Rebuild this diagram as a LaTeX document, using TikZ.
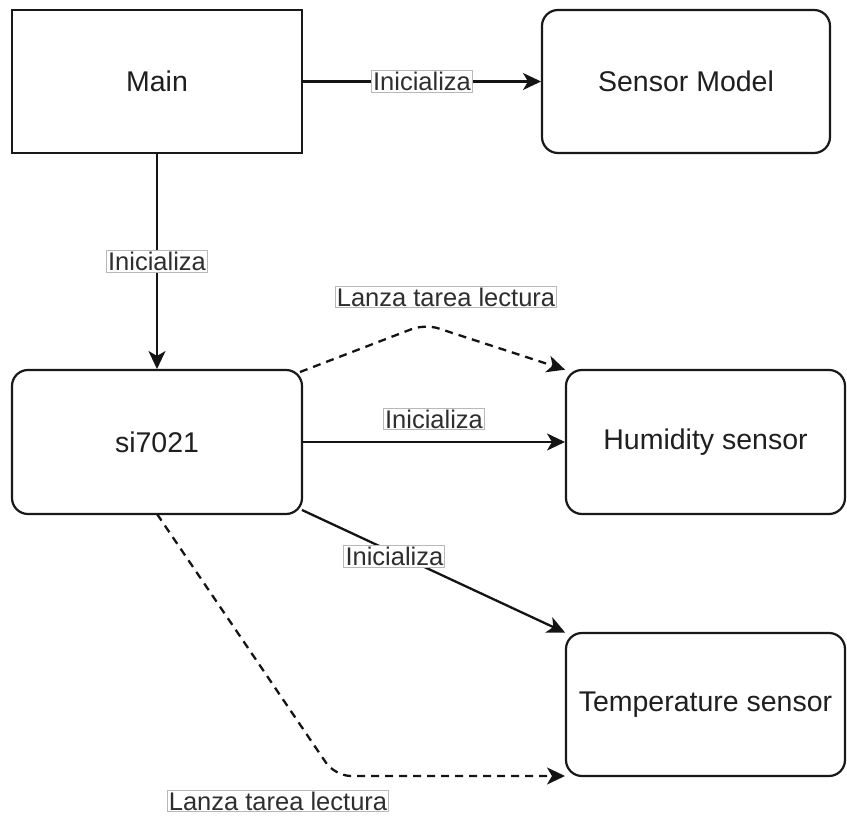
\documentclass[tikz,border=0pt]{standalone}
\usepackage{fontspec}
\setmainfont{Liberation Sans}
\usetikzlibrary{arrows.meta,calc}

\tikzset{
  boxbase/.style={draw=black!90, line width=2.2pt, fill=white, text=black!88,
    inner sep=0pt, outer sep=0pt, align=center,
    font=\fontsize{28.5}{34}\selectfont},
  plainbox/.style={boxbase, rectangle},
  roundbox/.style={boxbase, rectangle, rounded corners=16pt},
  lbl/.style={draw=black!28, line width=1pt, fill=white, text=black!82,
    inner sep=1.6pt, font=\fontsize{25.5}{28}\selectfont},
  link/.style={draw=black!92, line width=2.3pt, shorten >=1pt,
    -{Stealth[length=18pt,width=17pt,inset=5pt]}},
  dashlink/.style={link, dash pattern=on 8pt off 6pt}
}

\begin{document}
\begin{tikzpicture}[x=1pt,y=-1pt]
  \useasboundingbox (0,0) rectangle (847,818);

  % blocks
  \node[plainbox, minimum width=290pt, minimum height=143pt] (main) at (157,81.5) {Main};
  \node[roundbox, minimum width=288pt, minimum height=143pt] (model) at (686,81.5) {Sensor Model};
  \node[roundbox, minimum width=290pt, minimum height=144pt] (si) at (157,442) {si7021};
  \node[roundbox, minimum width=279pt, minimum height=144pt] (hum) at (705.5,442) {Humidity sensor};
  \node[roundbox, minimum width=279pt, minimum height=143pt] (temp) at (705.5,704.5) {Temperature sensor};

  % bend points of the dashed links
  \coordinate (peak) at (425,324);
  \coordinate (low) at (335,776);

  % initialisation links
  \draw[link] (main.east) -- node[lbl, pos=0.5] {Inicializa} (model.west);
  \draw[link] (main.south) -- node[lbl, pos=0.5] {Inicializa} (si.north);
  \draw[link] (si.east) -- node[lbl, midway, yshift=23pt] {Inicializa} (hum.west);
  \draw[link] ($(si.south east)+(0,-4)$) -- node[lbl, pos=0.35, yshift=-3pt] {Inicializa} (temp.north west);

  % reading tasks
  \draw[dashlink, rounded corners=14pt] ($(si.north east)+(-2,2)$) -- (peak) -- (hum.north west);
  \node[lbl] (lblup) at ($(peak)+(21,-27)$) {Lanza tarea lectura};
  \draw[dashlink, rounded corners=16pt] (si.south) -- (low) -- (temp.south west);
  \node[lbl] (lbldown) at (278,801) {Lanza tarea lectura};
\end{tikzpicture}
\end{document}
